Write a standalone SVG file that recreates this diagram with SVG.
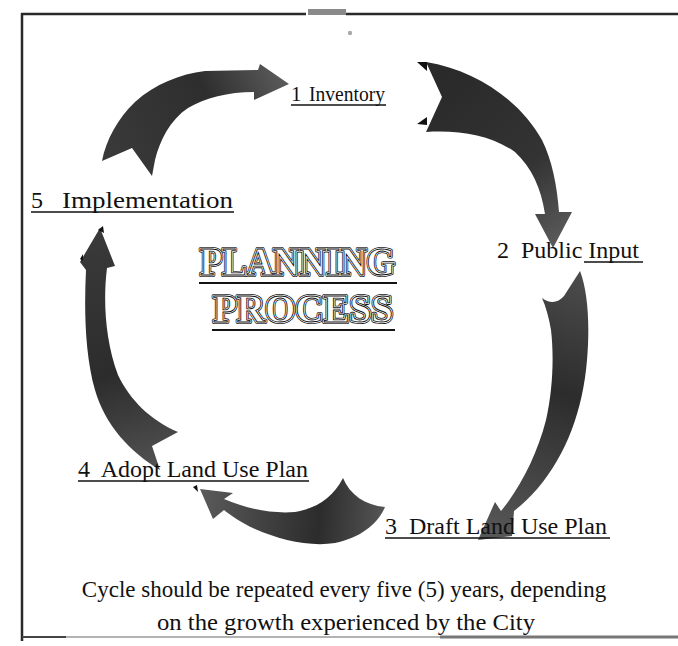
<svg xmlns="http://www.w3.org/2000/svg" width="678" height="646" viewBox="0 0 678 646">
<defs>
<style>
text{font-family:"Liberation Serif","Times New Roman",serif;fill:#111}
.lbl{font-size:24px}
.note{font-size:23px;text-anchor:middle}
.ttl{font-size:39px;font-weight:bold}
.t1{fill:none;stroke:#111;stroke-width:4;stroke-linejoin:round}
.t2{fill:none;stroke:#fff;stroke-width:2.4;stroke-linejoin:round}
.t3{fill:#fff;stroke:#111;stroke-width:0.9}
.ul{stroke:#111;stroke-width:1.5}
.arr{stroke:none}
</style>
<linearGradient id="gA" gradientUnits="userSpaceOnUse" x1="110" y1="170" x2="290" y2="84"><stop offset="0" stop-color="#3a3a3a"/><stop offset="0.6" stop-color="#2e2e2e"/><stop offset="1" stop-color="#5c5c5c"/></linearGradient>
<linearGradient id="gB" gradientUnits="userSpaceOnUse" x1="430" y1="90" x2="553" y2="248"><stop offset="0" stop-color="#2a2a2a"/><stop offset="0.6" stop-color="#333"/><stop offset="1" stop-color="#5a5a5a"/></linearGradient>
<linearGradient id="gC" gradientUnits="userSpaceOnUse" x1="575" y1="280" x2="478" y2="540"><stop offset="0" stop-color="#4a4a4a"/><stop offset="0.4" stop-color="#2c2c2c"/><stop offset="1" stop-color="#5a5a5a"/></linearGradient>
<linearGradient id="gD" gradientUnits="userSpaceOnUse" x1="385" y1="505" x2="202" y2="490"><stop offset="0" stop-color="#555"/><stop offset="0.35" stop-color="#2c2c2c"/><stop offset="1" stop-color="#5a5a5a"/></linearGradient>
<linearGradient id="gE" gradientUnits="userSpaceOnUse" x1="165" y1="460" x2="100" y2="228"><stop offset="0" stop-color="#505050"/><stop offset="0.4" stop-color="#2c2c2c"/><stop offset="1" stop-color="#3a3a3a"/></linearGradient>
</defs>
<rect width="678" height="646" fill="#fff"/>
<g id="frame">
<line x1="21" y1="14" x2="306" y2="14" stroke="#2a2a2a" stroke-width="2.5"/>
<rect x="308" y="9" width="38" height="6" fill="#8a8a8a"/>
<line x1="346" y1="14" x2="678" y2="14" stroke="#2a2a2a" stroke-width="2.5"/>
<line x1="22" y1="13" x2="22" y2="641" stroke="#2a2a2a" stroke-width="2.5"/>
<line x1="22" y1="637" x2="66" y2="637" stroke="#444" stroke-width="2"/>
<line x1="66" y1="637" x2="440" y2="637" stroke="#999" stroke-width="1.5"/>
<line x1="440" y1="637" x2="678" y2="637" stroke="#777" stroke-width="3"/>
<circle cx="350" cy="33" r="2.2" fill="#aaa"/>
</g>
<g id="connectors">
<path id="arrow-5-1" class="arr" fill="url(#gA)" d="M102,161 C106,140 118,118 135,102 C155,84 180,74 205,71 L258,70 L260,64 L289,84 L254,100 L254,92 C228,92 205,98 188,108 C170,120 160,140 155,160 L152,176 L132,148 Z"/>
<path id="arrow-1-2" class="arr" fill="url(#gB)" d="M426,62 C475,70 520,100 542,140 C552,160 557,185 559,212 L572,212 L553,248 L535,214 L545,214 C541,188 532,168 515,152 C490,135 460,130 426,132 L442,97 Z"/>
<path id="arrow-2-3" class="arr" fill="url(#gC)" d="M542,298 C550,304 558,303 564,296 L580,271 C588,292 590,325 587,360 C583,410 566,455 538,488 C530,497 522,505 514,511 L512,536 L478,540 L495,502 L501,511 C520,488 537,455 546,420 C553,390 554,355 551,330 C549,318 546,307 542,298 Z"/>
<path id="arrow-3-4" class="arr" fill="url(#gD)" d="M343,478 C350,495 365,505 385,507 C378,524 360,538 335,543 C310,547 280,540 255,529 C240,522 230,515 224,510 L213,519 L200,489 L233,493 L224,499 C245,508 270,514 295,512 C318,508 333,497 343,478 Z"/>
<path id="arrow-4-5" class="arr" fill="url(#gE)" d="M100,228 L115,266 L107,268 C103,300 105,340 118,375 C130,400 150,420 178,432 L152,446 L160,470 C130,452 105,425 95,390 C85,355 84,310 86,270 L80,262 Z"/>
<polygon points="417,62 427,62 427,71" fill="#111"/>
<polygon points="417,124 427,117 427,125" fill="#111"/>
<polygon points="98,230 103,226 104,233" fill="#111"/>
<polygon points="80,259 83,254 83,261" fill="#111"/>
<polygon points="193,487 197,485 198,492" fill="#111"/>
</g>
<g id="title" opacity="0.99">
<text class="ttl t1" x="200" y="275" textLength="195" lengthAdjust="spacingAndGlyphs">PLANNING</text>
<text class="ttl t2" x="200" y="275" textLength="195" lengthAdjust="spacingAndGlyphs">PLANNING</text>
<text class="ttl t3" x="200" y="275" textLength="195" lengthAdjust="spacingAndGlyphs">PLANNING</text>
<line x1="199" y1="283" x2="397" y2="283" stroke="#111" stroke-width="2"/>
<text class="ttl t1" x="213" y="322" textLength="180" lengthAdjust="spacingAndGlyphs">PROCESS</text>
<text class="ttl t2" x="213" y="322" textLength="180" lengthAdjust="spacingAndGlyphs">PROCESS</text>
<text class="ttl t3" x="213" y="322" textLength="180" lengthAdjust="spacingAndGlyphs">PROCESS</text>
<line x1="212" y1="330" x2="395" y2="330" stroke="#111" stroke-width="2"/>
</g>
<g id="node-1">
<text class="lbl" x="291" y="101" style="font-size:21px">1</text>
<text class="lbl" x="309" y="101" style="font-size:21px" textLength="76" lengthAdjust="spacingAndGlyphs">Inventory</text>
<line class="ul" x1="291" y1="105" x2="386" y2="105"/>
</g>
<g id="node-2">
<text class="lbl" x="497" y="258" xml:space="preserve">2  Public Input</text>
<line class="ul" x1="584" y1="262" x2="643" y2="262"/>
</g>
<g id="node-3">
<text class="lbl" x="385" y="534" xml:space="preserve">3  Draft Land Use Plan</text>
<line class="ul" x1="385" y1="538" x2="610" y2="538"/>
</g>
<g id="node-4">
<text class="lbl" x="78" y="477" xml:space="preserve">4  Adopt Land Use Plan</text>
<line class="ul" x1="78" y1="481" x2="309" y2="481"/>
</g>
<g id="node-5">
<text class="lbl" x="31" y="208">5</text>
<text class="lbl" x="62" y="208" textLength="171" lengthAdjust="spacingAndGlyphs">Implementation</text>
<line class="ul" x1="31" y1="212" x2="234" y2="212"/>
</g>
<g id="note">
<text class="note" x="344" y="597">Cycle should be repeated every five (5) years, depending</text>
<text class="note" x="346" y="630" textLength="378" lengthAdjust="spacingAndGlyphs">on the growth experienced by the City</text>
</g>
</svg>
